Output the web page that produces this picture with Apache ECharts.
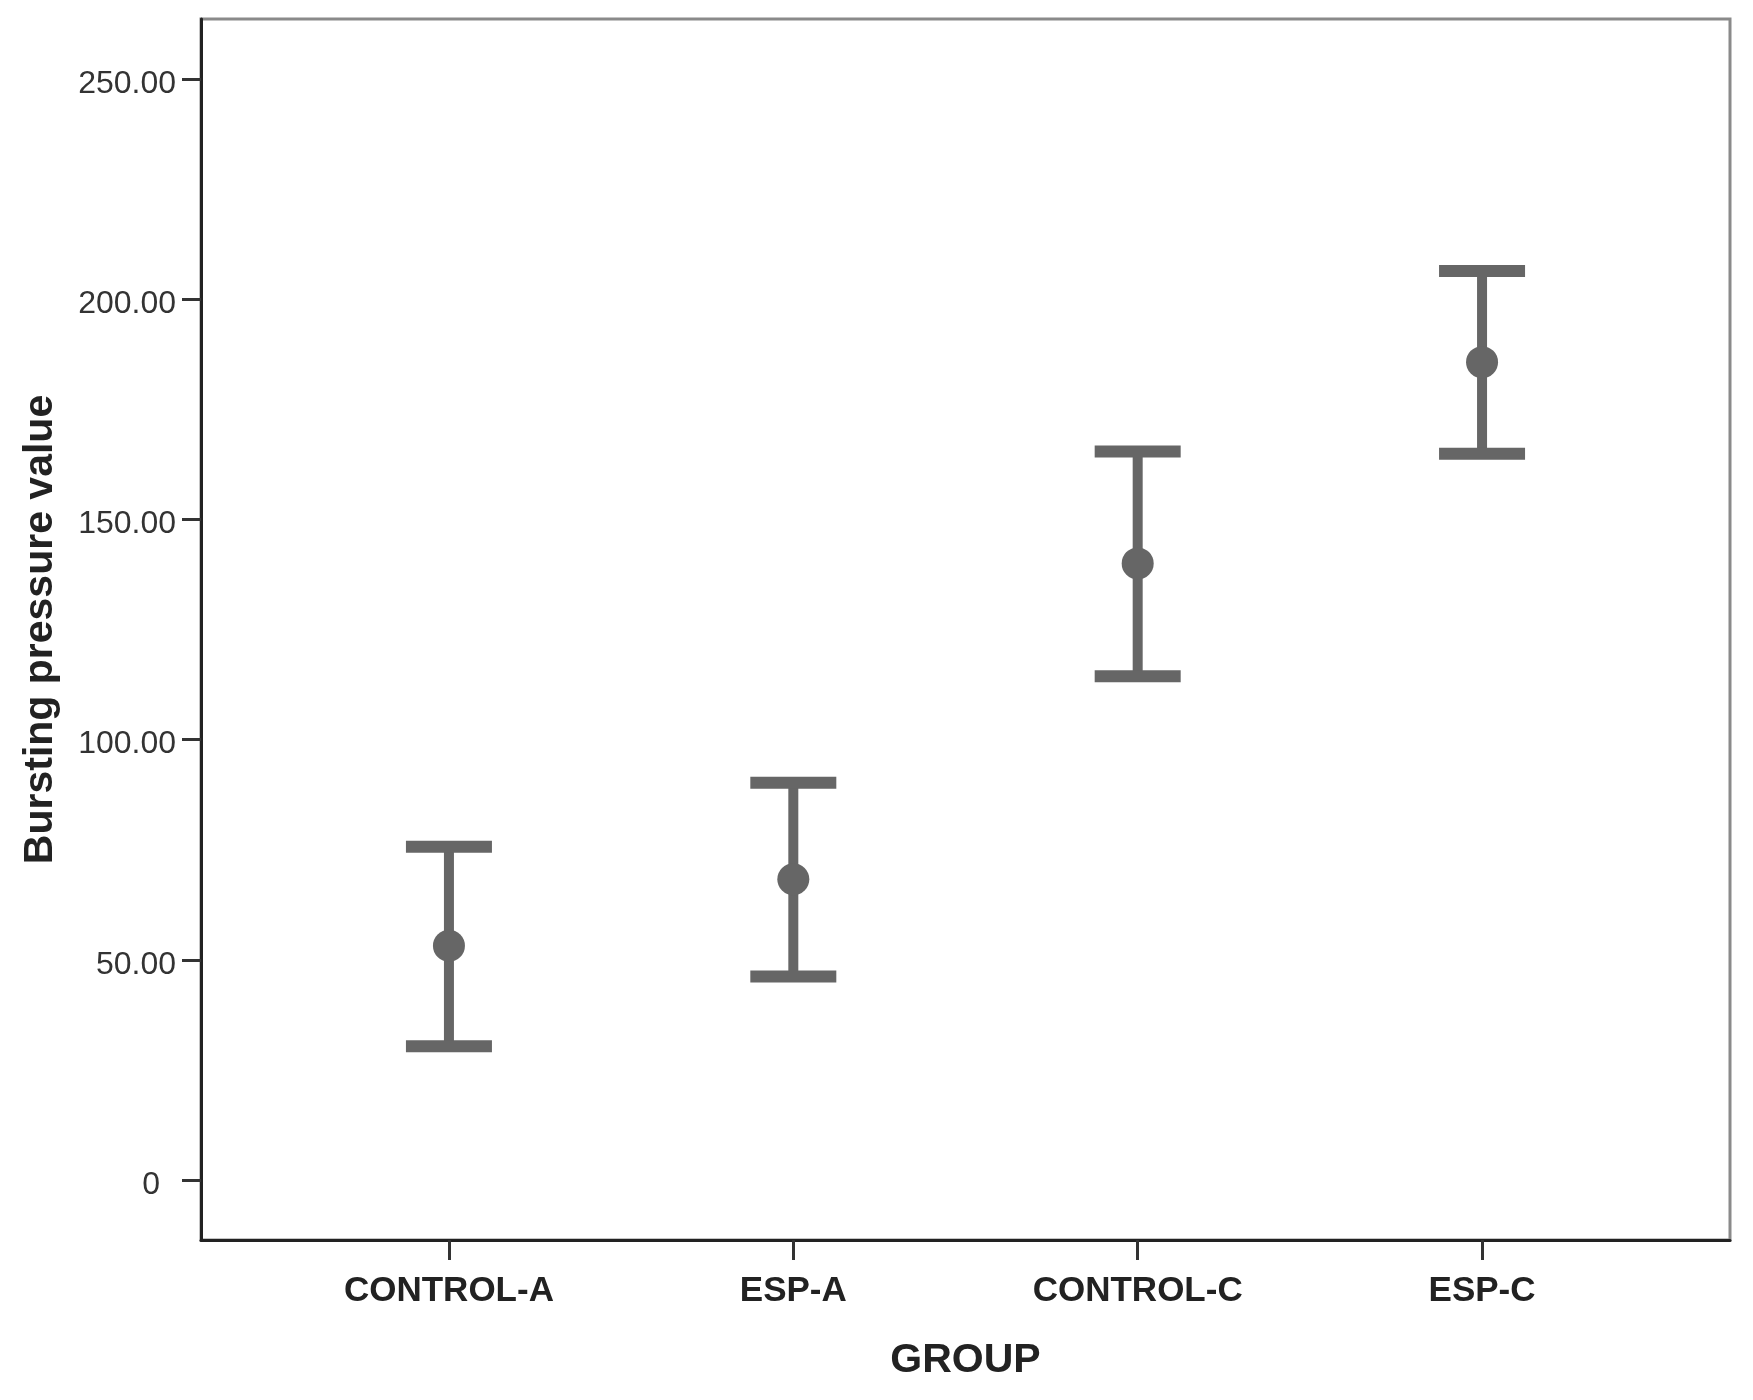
<!DOCTYPE html>
<html>
<head>
<meta charset="utf-8">
<script src="https://cdn.jsdelivr.net/npm/echarts@6/dist/echarts.min.js"></script>
<style>
  html, body { margin: 0; padding: 0; background: #fff; }
  #chart { width: 1753px; height: 1400px; }
</style>
</head>
<body>
<div id="chart"></div>
<script>
// groups on the x axis
const groups = ['CONTROL-A', 'ESP-A', 'CONTROL-C', 'ESP-C'];
// mean bursting pressure and error bar ends
const means = [53.2, 68.3, 140.0, 185.7];
const lower = [30.4, 46.2, 114.4, 164.9];
const upper = [75.7, 90.2, 165.4, 206.4];
// y tick labels
const yTicks = [0, 50, 100, 150, 200, 250];

const barColor = '#666666';
const font = 'Arial, "Liberation Sans", sans-serif';

const chart = echarts.init(document.getElementById('chart'));

const barData = groups.map((g, i) => [i + 1, lower[i], upper[i]]);
const meanData = groups.map((g, i) => [i + 1, means[i]]);

const option = {
  backgroundColor: '#fff',
  animation: false,
  grid: {
    left: 201, right: 23, top: 19, bottom: 160,
    show: true,
    borderColor: '#8a8a8a',
    borderWidth: 3,
    backgroundColor: '#fff'
  },
  xAxis: {
    type: 'value',
    min: 0.28,
    max: 4.72,
    name: 'GROUP',
    nameLocation: 'middle',
    nameGap: 100,
    nameTextStyle: { fontFamily: font, fontWeight: 'bold', fontSize: 41, color: '#222' },
    axisLine: { show: true, onZero: false, lineStyle: { color: '#222', width: 3 } },
    axisTick: { show: true, length: 20, customValues: [1, 2, 3, 4], lineStyle: { color: '#333', width: 3 } },
    axisLabel: {
      customValues: [1, 2, 3, 4],
      margin: 34,
      fontFamily: font, fontWeight: 'bold', fontSize: 35, color: '#222',
      formatter: v => groups[Math.round(v) - 1] || ''
    },
    splitLine: { show: false }
  },
  yAxis: {
    type: 'value',
    min: -13.6,
    max: 263.6,
    name: 'Bursting pressure value',
    nameLocation: 'middle',
    nameGap: 140,
    nameRotate: 90,
    nameTextStyle: { fontFamily: font, fontWeight: 'bold', fontSize: 41, color: '#222' },
    axisLine: { show: true, onZero: false, lineStyle: { color: '#222', width: 3 } },
    axisTick: { show: true, length: 19, customValues: yTicks, lineStyle: { color: '#333', width: 3 } },
    axisLabel: {
      customValues: yTicks,
      margin: 25,
      fontFamily: font, fontSize: 32, color: '#333',
      formatter: v => v === 0 ? '{z|0}' : '{n|' + v.toFixed(2) + '}',
      rich: {
        n: { fontFamily: font, fontSize: 32, color: '#333', padding: [10, 0, 0, 0] },
        z: { fontFamily: font, fontSize: 32, color: '#333', padding: [10, 16, 0, 0] }
      }
    },
    splitLine: { show: false }
  },
  series: [
    {
      type: 'custom',
      data: barData,
      z: 3,
      renderItem: function (params, api) {
        const x = api.value(0);
        const lo = api.coord([x, api.value(1)]);
        const hi = api.coord([x, api.value(2)]);
        const half = 43;
        const style = { stroke: barColor, lineWidth: 10 };
        const capStyle = { stroke: barColor, lineWidth: 12 };
        return {
          type: 'group',
          children: [
            { type: 'line', shape: { x1: hi[0], y1: hi[1], x2: lo[0], y2: lo[1] }, style: style },
            { type: 'line', shape: { x1: hi[0] - half, y1: hi[1], x2: hi[0] + half, y2: hi[1] }, style: capStyle },
            { type: 'line', shape: { x1: lo[0] - half, y1: lo[1], x2: lo[0] + half, y2: lo[1] }, style: capStyle }
          ]
        };
      }
    },
    {
      type: 'scatter',
      data: meanData,
      z: 4,
      symbol: 'circle',
      symbolSize: 32,
      itemStyle: { color: barColor, opacity: 1 }
    }
  ]
};

chart.setOption(option);
</script>
</body>
</html>
